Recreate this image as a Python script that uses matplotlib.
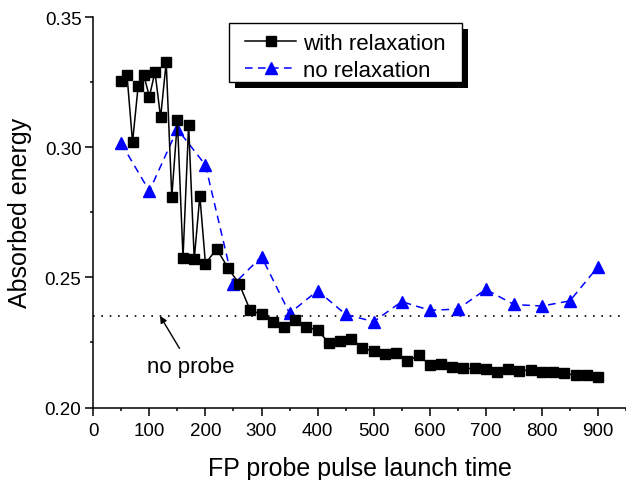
import numpy as np
import matplotlib
matplotlib.use("Agg")
import matplotlib.pyplot as plt
from matplotlib.patches import Rectangle
from matplotlib.ticker import MultipleLocator

plt.rcParams['font.family'] = ['Liberation Sans', 'DejaVu Sans']

# with relaxation: 50..200 step 10, then 220..900 step 20
t_relax = [50, 60, 70, 80, 90, 100, 110, 120, 130, 140, 150, 160, 170, 180, 190, 200,
           220, 240, 260, 280, 300, 320, 340, 360, 380, 400, 420, 440, 460, 480, 500,
           520, 540, 560, 580, 600, 620, 640, 660, 680, 700, 720, 740, 760, 780, 800,
           820, 840, 860, 880, 900]
e_relax = [0.3255, 0.328, 0.302, 0.3236, 0.3278, 0.3195, 0.329, 0.3115, 0.3327, 0.281,
           0.3104, 0.2576, 0.3087, 0.257, 0.2814, 0.2553,
           0.261, 0.2537, 0.2476, 0.2373, 0.2359, 0.233, 0.231, 0.2336, 0.231, 0.2297,
           0.2249, 0.2255, 0.2265, 0.2227, 0.2217, 0.2205, 0.221, 0.2177, 0.2201,
           0.2165, 0.2167, 0.2154, 0.215, 0.215, 0.2147, 0.2137, 0.2149, 0.214, 0.2145,
           0.2135, 0.2137, 0.2131, 0.2124, 0.2124, 0.2119]

# no relaxation: every 50
t_norelax = [50, 100, 150, 200, 250, 300, 350, 400, 450, 500, 550, 600, 650, 700,
             750, 800, 850, 900]
e_norelax = [0.3015, 0.2832, 0.307, 0.2932, 0.2473, 0.258, 0.2362, 0.2449, 0.2358,
             0.233, 0.2407, 0.2374, 0.2378, 0.2454, 0.2396, 0.239, 0.241, 0.2541]

no_probe = 0.2352

W, H = 626, 481
fig = plt.figure(figsize=(W / 100, H / 100), dpi=100)
ax = fig.add_axes([93.3 / W, (H - 408.5) / H, (W - 93.3) / W, (408.5 - 18.3) / H])

ax.axhline(no_probe, color='black', lw=1.2, linestyle=(0, (1, 4)), zorder=1)

ax.plot(t_relax, e_relax, color='black', lw=1.1, marker='s', markersize=7,
        label='with relaxation', zorder=3)
ax.plot(t_norelax, e_norelax, color='#0000ff', lw=1.1, linestyle=(0, (5, 3.5)),
        marker='^', markersize=9, label='no relaxation', zorder=2)

ax.annotate('no probe', xy=(119, no_probe), xytext=(173, 0.2158),
            ha='center', va='center', fontsize=16,
            arrowprops=dict(arrowstyle='-|>', color='black', lw=1.0,
                            mutation_scale=10, shrinkA=4, shrinkB=0))

ax.set_xlim(0, 950)
ax.set_ylim(0.20, 0.35)
ax.set_xticks(np.arange(0, 901, 100))
ax.xaxis.set_minor_locator(MultipleLocator(50))
ax.yaxis.set_major_locator(MultipleLocator(0.05))
ax.yaxis.set_minor_locator(MultipleLocator(0.025))
ax.yaxis.set_major_formatter(plt.FormatStrFormatter('%.2f'))

for s in ['top', 'right']:
    ax.spines[s].set_visible(False)
for s in ['left', 'bottom']:
    ax.spines[s].set_linewidth(1.1)

ax.tick_params(which='major', direction='out', length=5.5, width=1.1, labelsize=13.5, pad=3)
ax.tick_params(which='minor', direction='out', length=2.5, width=1.1)
ax.tick_params(axis='x', which='major', pad=5)

ax.set_xlabel('FP probe pulse launch time', fontsize=18, labelpad=12)
ax.set_ylabel('Absorbed energy', fontsize=18, labelpad=9)

# legend without its own frame; Origin-style box with solid shadow drawn behind
leg = fig.legend(loc='upper left', bbox_to_anchor=(245 / W, 1 - 34 / H), borderaxespad=0,
                 fontsize=16, handlelength=2.3, handletextpad=0.3, labelspacing=0.25,
                 borderpad=0, frameon=False)
leg.set_zorder(7)

box_x0, box_y0, box_x1, box_y1 = 229, 24, 462, 83
fig.patches.append(Rectangle(((box_x0 + 6) / W, 1 - (box_y1 + 6) / H),
                             (box_x1 - box_x0) / W, (box_y1 - box_y0) / H,
                             transform=fig.transFigure, facecolor='black',
                             edgecolor='none', zorder=5))
fig.patches.append(Rectangle((box_x0 / W, 1 - box_y1 / H),
                             (box_x1 - box_x0) / W, (box_y1 - box_y0) / H,
                             transform=fig.transFigure, facecolor='white',
                             edgecolor='black', lw=1.0, zorder=6))

fig.savefig('out.png', dpi=100)
